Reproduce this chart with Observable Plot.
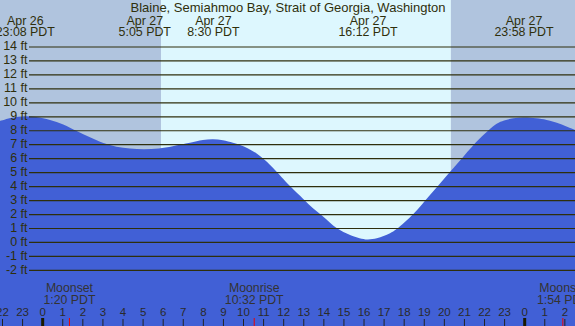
<!DOCTYPE html>
<html><head><meta charset="utf-8">
<script src="https://cdn.jsdelivr.net/npm/d3@7"></script>
<script src="https://cdn.jsdelivr.net/npm/@observablehq/plot@0.6"></script>
<style>html,body{margin:0;padding:0;background:#fff;overflow:hidden}#chart svg{display:block}</style>
</head><body><div id="chart"></div>
<script>
const title = "Blaine, Semiahmoo Bay, Strait of Georgia, Washington";

// Tide height (ft); hours since midnight Apr 27 (PDT)
const tideHours = [-2.10, -1.50, -0.87, -0.30, 0.39, 1.05, 1.72, 2.38, 3.05, 3.70, 4.37, 5.08, 5.80, 6.50, 7.36, 8.00, 8.50, 9.00, 9.50, 9.85, 10.25, 10.68, 11.10, 11.51, 12.34, 13.00, 13.50, 14.00, 14.66, 15.33, 15.80, 16.20, 16.66, 17.00, 17.32, 17.65, 18.48, 19.31, 20.14, 20.97, 21.80, 22.63, 23.00, 23.46, 23.97, 24.60, 25.12, 25.80, 26.53];
const tideFeet  = [8.67, 8.90, 9.00, 8.95, 8.74, 8.42, 7.95, 7.50, 7.08, 6.82, 6.69, 6.64, 6.70, 6.86, 7.10, 7.30, 7.36, 7.28, 7.10, 6.95, 6.70, 6.33, 5.85, 5.28, 4.00, 3.08, 2.40, 1.81, 1.00, 0.50, 0.27, 0.18, 0.26, 0.42, 0.62, 0.92, 2.00, 3.37, 4.75, 6.11, 7.42, 8.46, 8.70, 8.86, 8.92, 8.86, 8.74, 8.45, 8.02];

// High / low tide labels
const extremeDates = ["Apr 26", "Apr 27", "Apr 27", "Apr 27", "Apr 27"];
const extremeTimes = ["23:08", "5:05", "8:30", "16:12", "23:58"];
const extremeDayOffsets = [-24, 0, 0, 0, 0];

// Sun
const sunriseTime = "5:55";
const sunsetTime = "20:21";

// Moon events
const moonNames = ["Moonset", "Moonrise", "Moonset"];
const moonTimes = ["1:20", "10:32", "1:54"];
const moonDayOffsets = [0, 0, 24];

// Axis ticks
const hourTicks = [-2, -1, 0, 1, 2, 3, 4, 5, 6, 7, 8, 9, 10, 11, 12, 13, 14, 15, 16, 17, 18, 19, 20, 21, 22, 23, 24, 25, 26];
const midnightTicks = [0, 24];
const ftTicks = [-2, -1, 0, 1, 2, 3, 4, 5, 6, 7, 8, 9, 10, 11, 12, 13, 14];

const xDomain = [-2.1, 26.53];
const yDomain = [-6.02, 17.33];

const toHours = (t, off) => { const [h, m] = t.split(":").map(Number); return h + m / 60 + off; };

const tide = tideHours.map((h, i) => ({h, ft: tideFeet[i]}));
const extremes = extremeTimes.map((t, i) => ({h: toHours(t, extremeDayOffsets[i]), label: `${extremeDates[i]}\n${t} PDT`}));
const moons = moonTimes.map((t, i) => ({h: toHours(t, moonDayOffsets[i]), label: `${moonNames[i]}\n${t} PDT`}));
const sunrise = toHours(sunriseTime, 0), sunset = toHours(sunsetTime, 0);
const bands = [
  {x1: xDomain[0], x2: sunrise, fill: "#b0c4de"},
  {x1: sunrise, x2: sunset, fill: "#ddf7fe"},
  {x1: sunset, x2: xDomain[1], fill: "#b0c4de"}
];

const ink = "#2f2f0c";
const chart = Plot.plot({
  width: 575, height: 326, margin: 0,
  x: {domain: xDomain, axis: null},
  y: {domain: yDomain, axis: null},
  style: {background: "transparent", fontFamily: "'Liberation Sans', Arial, sans-serif", fontSize: "12px"},
  marks: [
    Plot.rect(bands, {x1: "x1", x2: "x2", fill: "fill"}),
    Plot.areaY(tide, {x: "h", y1: yDomain[0], y2: "ft", fill: "#4160d6", curve: "catmull-rom", clip: true}),
    Plot.ruleY(ftTicks, {y: d => d, stroke: ink, strokeWidth: 1.2, insetLeft: 29}),
    Plot.text(ftTicks, {y: d => d, text: d => `${d} ft`, frameAnchor: "left", textAnchor: "end", dx: 27, dy: -0.5, fill: ink, fontSize: 12.5}),
    Plot.text([title], {text: d => d, frameAnchor: "top", lineAnchor: "bottom", dy: 11.5, fill: ink, fontSize: 13}),
    Plot.text(extremes, {x: "h", text: "label", frameAnchor: "top", lineAnchor: "bottom", dy: 35.8, lineHeight: 0.93, fill: ink, fontSize: 12.4}),
    Plot.ruleX(hourTicks, {x: d => d, insetTop: 319, stroke: "#222", strokeWidth: 1}),
    Plot.ruleX(midnightTicks, {x: d => d, insetTop: 318, stroke: "#1a1a00", strokeWidth: 3}),
    Plot.ruleX(moons, {x: "h", insetTop: 318, stroke: "#ee0000", strokeWidth: 1}),
    Plot.text(hourTicks, {x: d => d, text: d => String(((d % 24) + 24) % 24), frameAnchor: "bottom", lineAnchor: "bottom", dy: -10.3, fill: "#2a2a2a", fontSize: 11.5}),
    Plot.text(moons, {x: "h", text: "label", frameAnchor: "bottom", lineAnchor: "bottom", dy: -22.7, lineHeight: 0.98, fill: "#333", fontSize: 12.3})
  ]
});
document.getElementById("chart").appendChild(chart);
</script>
</body></html>
